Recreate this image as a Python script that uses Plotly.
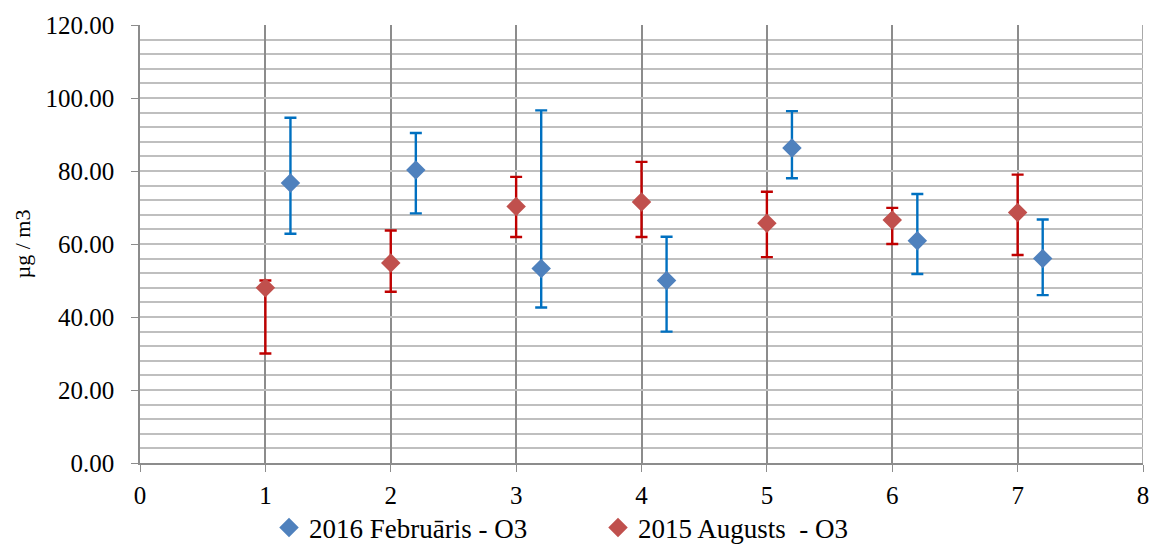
import plotly.graph_objects as go

# Data
x_2016 = [1.2, 2.2, 3.2, 4.2, 5.2, 6.2, 7.2]
mean_2016 = [76.7, 80.3, 53.3, 50.0, 86.3, 60.9, 56.0]
upper_2016 = [94.6, 90.4, 96.6, 62.0, 96.4, 73.7, 66.7]
lower_2016 = [62.8, 68.4, 42.6, 36.0, 78.0, 51.8, 46.0]

x_2015 = [1, 2, 3, 4, 5, 6, 7]
mean_2015 = [48.0, 54.8, 70.3, 71.5, 65.7, 66.6, 68.6]
upper_2015 = [50.0, 63.7, 78.4, 82.5, 74.3, 69.9, 79.0]
lower_2015 = [30.0, 46.9, 61.9, 61.9, 56.4, 60.0, 57.0]

name_2016 = "2016 Februāris - O3"
name_2015 = "2015 Augusts \u00a0- O3"
y_title = "µg / m3"

def err(mean, upper, lower, color):
    return dict(
        type="data", symmetric=False,
        array=[u - m for u, m in zip(upper, mean)],
        arrayminus=[m - l for m, l in zip(mean, lower)],
        color=color, thickness=2.4, width=6, visible=True,
    )

fig = go.Figure()
fig.add_trace(go.Scatter(
    x=x_2016, y=mean_2016, mode="markers", name=name_2016,
    marker=dict(symbol="diamond", size=15, color="#4F81BD"),
    error_y=err(mean_2016, upper_2016, lower_2016, "#0070C0"),
))
fig.add_trace(go.Scatter(
    x=x_2015, y=mean_2015, mode="markers", name=name_2015,
    marker=dict(symbol="diamond", size=15, color="#C0504D"),
    error_y=err(mean_2015, upper_2015, lower_2015, "#C00000"),
))

W, H = 1151, 546
font_family = "Liberation Serif"
fig.update_layout(
    template="none",
    width=W, height=H,
    margin=dict(l=140, r=8, t=25, b=83, autoexpand=False),
    paper_bgcolor="white", plot_bgcolor="white",
    font=dict(family=font_family, size=25, color="black"),
    showlegend=True,
    legend=dict(
        orientation="h", xref="container", yref="container",
        x=269 / W, xanchor="left", y=(H - 528) / H, yanchor="middle",
        font=dict(family=font_family, size=27), entrywidth=284, itemwidth=30,
    ),
    xaxis=dict(
        range=[0, 8], dtick=1, tick0=0, automargin=False,
        showgrid=True, gridcolor="#8c8c8c", gridwidth=1.5,
        showline=True, linecolor="#8c8c8c", linewidth=1.5,
        ticks="outside", ticklen=7, tickcolor="#8c8c8c",
        zeroline=False, mirror=False,
        tickfont=dict(family=font_family, size=25), ticklabelstandoff=2,
    ),
    yaxis=dict(
        range=[0, 120], dtick=20, tick0=0, tickformat=".2f", automargin=False,
        showgrid=True, gridcolor="#bfbfbf", gridwidth=2,
        minor=dict(dtick=4, showgrid=True, gridcolor="#bfbfbf", gridwidth=2),
        showline=True, linecolor="#8c8c8c", linewidth=1.5,
        ticks="outside", ticklen=7, tickcolor="#8c8c8c",
        zeroline=False,
        title=dict(text=y_title, font=dict(family=font_family, size=22), standoff=9),
        tickfont=dict(family=font_family, size=25), ticklabelstandoff=12,
    ),
)

fig.add_shape(type="line", xref="x", yref="paper", x0=8, x1=8, y0=0, y1=1,
              line=dict(color="#8c8c8c", width=1.5), layer="below")

fig.write_html(
    "out.html",
    config={"displayModeBar": False},
    post_script="document.body.style.margin='0';document.body.style.overflow='hidden';",
)
